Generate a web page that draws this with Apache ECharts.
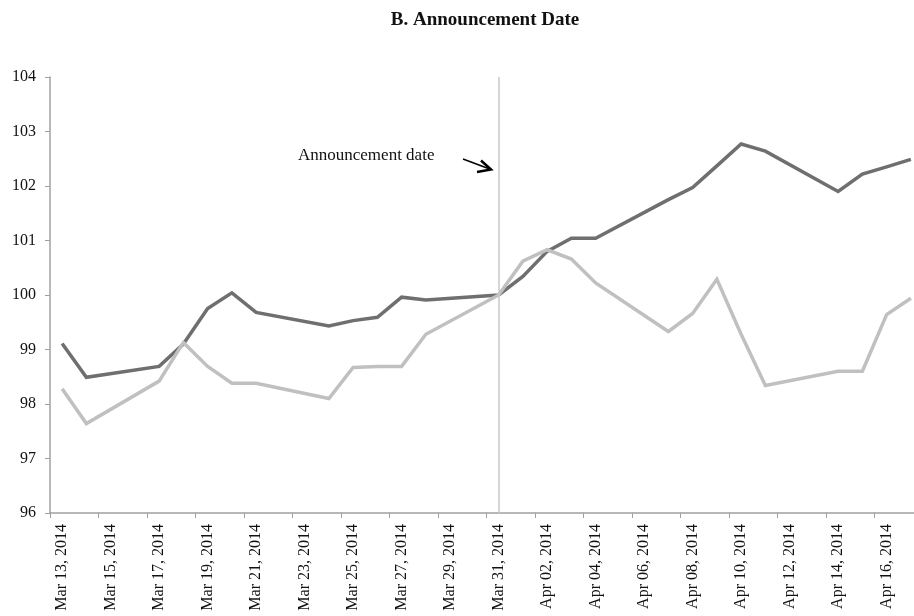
<!DOCTYPE html>
<html>
<head>
<meta charset="utf-8">
<script src="https://cdn.jsdelivr.net/npm/echarts@6/dist/echarts.min.js"></script>
<style>html,body{margin:0;padding:0;background:#fff;overflow:hidden}#c{width:926px;height:616px}</style>
</head>
<body>
<div id="c"></div>
<script>
// Calendar days shown on the axis (weekends have no observation)
var days = ['Mar 13, 2014','Mar 14, 2014','Mar 15, 2014','Mar 16, 2014','Mar 17, 2014','Mar 18, 2014','Mar 19, 2014','Mar 20, 2014','Mar 21, 2014','Mar 22, 2014','Mar 23, 2014','Mar 24, 2014','Mar 25, 2014','Mar 26, 2014','Mar 27, 2014','Mar 28, 2014','Mar 29, 2014','Mar 30, 2014','Mar 31, 2014','Apr 01, 2014','Apr 02, 2014','Apr 03, 2014','Apr 04, 2014','Apr 05, 2014','Apr 06, 2014','Apr 07, 2014','Apr 08, 2014','Apr 09, 2014','Apr 10, 2014','Apr 11, 2014','Apr 12, 2014','Apr 13, 2014','Apr 14, 2014','Apr 15, 2014','Apr 16, 2014','Apr 17, 2014'];
var darkSeries = [99.11, 98.49, null, null, 98.69, 99.10, 99.75, 100.04, 99.68, null, null, 99.43, 99.53, 99.59, 99.96, 99.91, null, null, 100.00, 100.34, 100.80, 101.04, 101.04, null, null, 101.75, 101.97, 102.37, 102.77, 102.64, null, null, 101.90, 102.22, 102.35, 102.49];
var lightSeries = [98.28, 97.64, null, null, 98.42, 99.13, 98.69, 98.38, 98.38, null, null, 98.10, 98.67, 98.69, 98.69, 99.28, null, null, 100.00, 100.62, 100.83, 100.66, 100.22, null, null, 99.33, 99.66, 100.29, 99.28, 98.34, null, null, 98.60, 98.60, 99.64, 99.94];
var announcementDay = 'Mar 31, 2014';
var titleText = 'B. Announcement Date';
var noteText = 'Announcement date';
var yMin = 96, yMax = 104, yStep = 1;

var font = '"Liberation Serif", "Times New Roman", serif';
var chart = echarts.init(document.getElementById('c'), null, {renderer: 'canvas', width: 926, height: 616});
chart.setOption({
  animation: false,
  backgroundColor: '#fff',
  title: {
    text: titleText, left: 480, top: 6, textAlign: 'center',
    textStyle: {fontFamily: font, fontWeight: 'bold', fontSize: 19, color: '#111'}
  },
  grid: {left: 50, top: 77, width: 873, height: 436, containLabel: false},
  xAxis: {
    type: 'category', data: days, boundaryGap: true,
    axisLine: {lineStyle: {color: '#a0a0a0', width: 1.5}},
    axisTick: {show: true, interval: 1, length: 5, lineStyle: {color: '#a0a0a0'}},
    axisLabel: {interval: 1, rotate: 90, margin: 11, fontFamily: font, fontSize: 16, color: '#111'},
    splitLine: {show: false}
  },
  yAxis: {
    type: 'value', min: yMin, max: yMax, interval: yStep,
    axisLine: {show: true, lineStyle: {color: '#a0a0a0', width: 1.5}},
    axisTick: {show: true, length: 5, lineStyle: {color: '#a0a0a0'}},
    axisLabel: {margin: 14, fontFamily: font, fontSize: 16, color: '#111'},
    splitLine: {show: false}
  },
  series: [
    {
      type: 'line', data: darkSeries, connectNulls: true, showSymbol: false, symbol: 'none',
      lineStyle: {color: '#6f6f6f', width: 3.5, join: 'miter'},
      markLine: {
        silent: true, symbol: 'none', label: {show: false},
        lineStyle: {color: '#c8c8c8', width: 1.5, type: 'solid'},
        data: [{xAxis: announcementDay}]
      }
    },
    {
      type: 'line', data: lightSeries, connectNulls: true, showSymbol: false, symbol: 'none',
      lineStyle: {color: '#c0c0c0', width: 3.5, join: 'miter'}
    }
  ],
  graphic: [
    {type: 'text', left: 298, top: 147, style: {text: noteText, font: '17px ' + font, fill: '#111'}},
    {type: 'line', shape: {x1: 463, y1: 159, x2: 491, y2: 169.5}, style: {stroke: '#000', lineWidth: 1.5}},
    {type: 'polyline', shape: {points: [[481, 160.5], [491, 169.5], [477, 172]]}, style: {stroke: '#000', lineWidth: 2.5, fill: null, lineJoin: 'miter'}}
  ]
});
</script>
</body>
</html>
